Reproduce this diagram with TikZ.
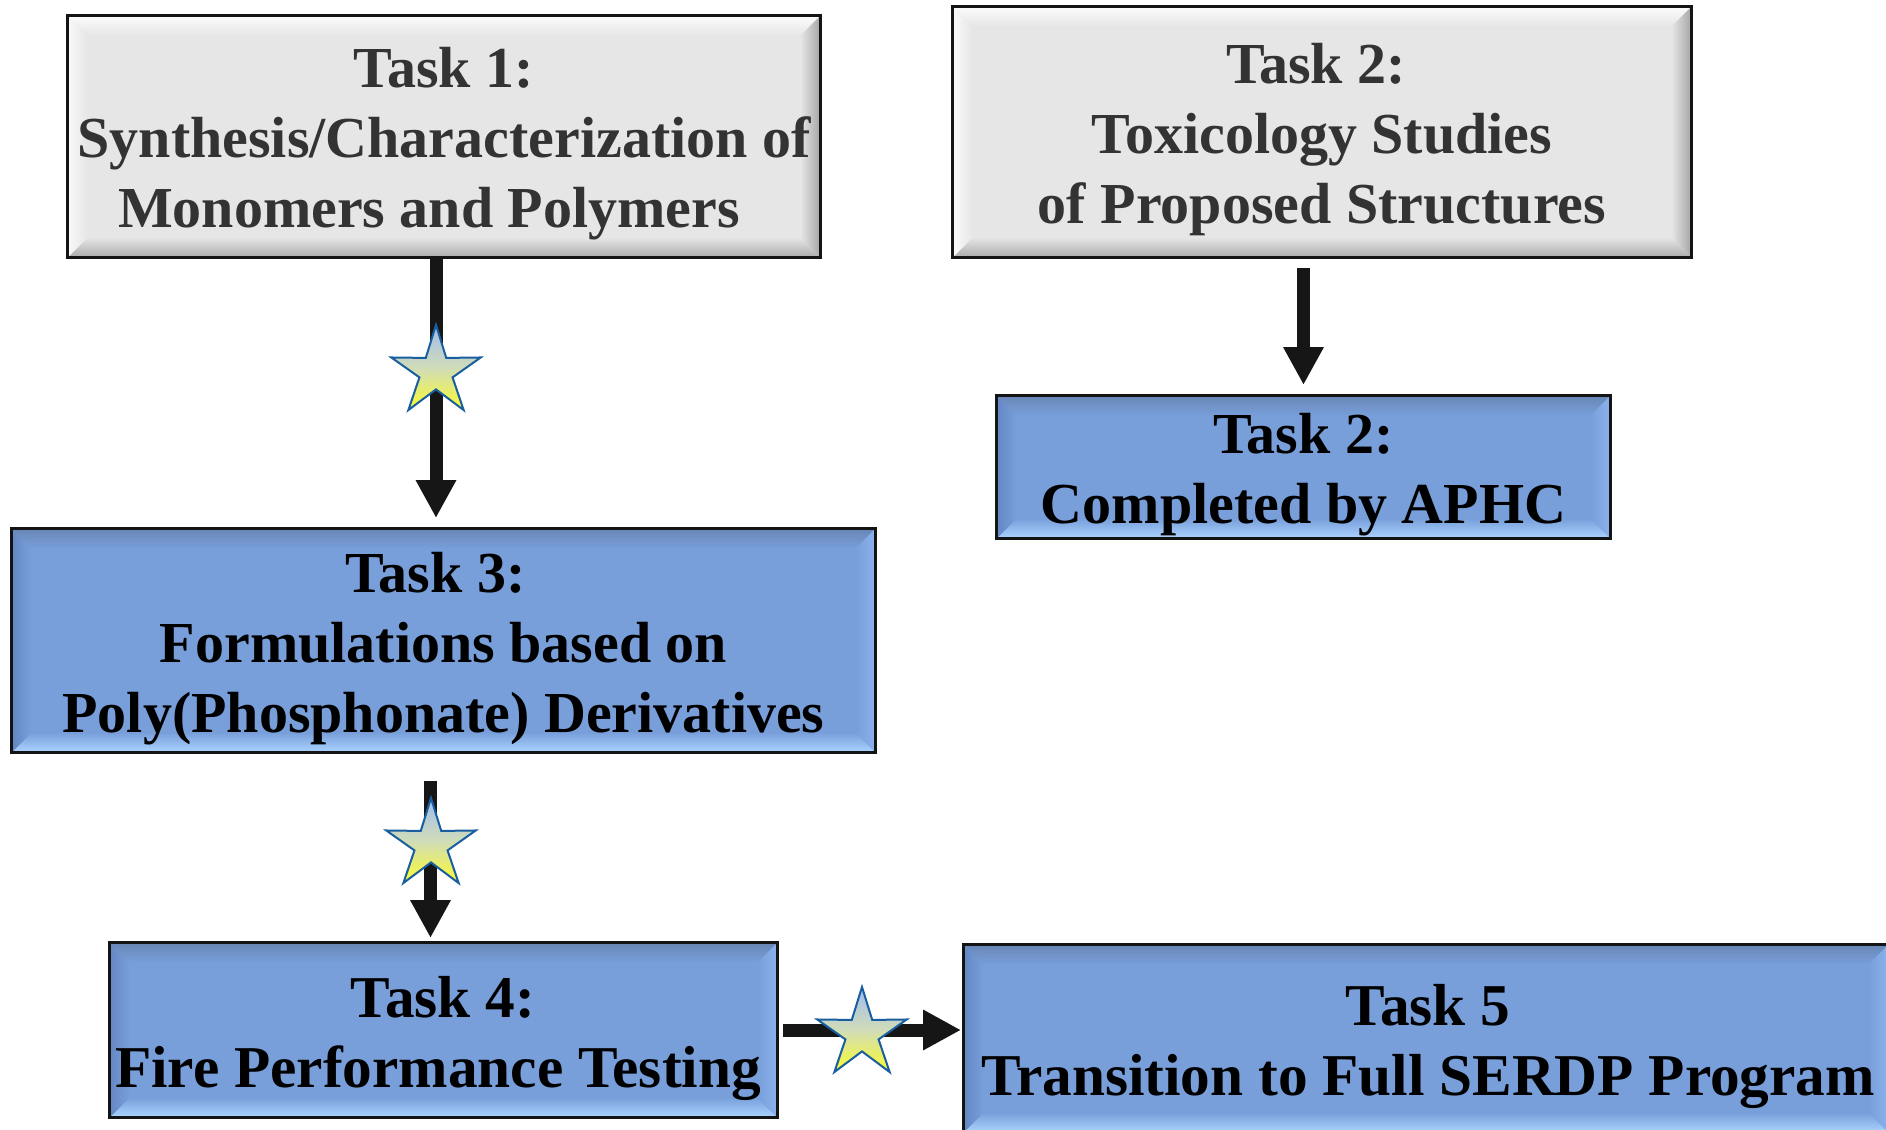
\documentclass[tikz,border=0pt]{standalone}
\usepackage{fontspec}
\setmainfont{Liberation Serif}
\usetikzlibrary{arrows.meta,shapes.geometric}
\definecolor{bmain}{RGB}{120,159,218}
\definecolor{btopA}{RGB}{104,134,182}
\definecolor{bleftA}{RGB}{100,135,196}
\definecolor{bbotA}{RGB}{172,212,255}
\definecolor{brightA}{RGB}{140,178,236}
\definecolor{gmain}{RGB}{230,230,230}
\definecolor{gtopA}{RGB}{252,252,252}
\definecolor{gleftA}{RGB}{250,250,250}
\definecolor{gbotA}{RGB}{170,170,170}
\definecolor{grightA}{RGB}{165,165,165}
\definecolor{edgec}{RGB}{20,20,20}
\definecolor{arrowc}{RGB}{22,22,22}
\definecolor{gtext}{RGB}{51,51,51}
\definecolor{starblue}{RGB}{160,188,240}
\definecolor{starmid}{RGB}{208,220,185}
\definecolor{staryel}{RGB}{252,252,45}
\definecolor{staredge}{RGB}{25,95,160}
\newcommand{\mybevel}[5]{%
  \path (path picture bounding box.north west) coordinate (pNW)
        (path picture bounding box.north east) coordinate (pNE)
        (path picture bounding box.south west) coordinate (pSW)
        (path picture bounding box.south east) coordinate (pSE);
  \shade[top color=#2,bottom color=#1] (pNW) -- (pNE) -- ([shift={(-20pt,-20pt)}]pNE) -- ([shift={(20pt,-20pt)}]pNW) -- cycle;
  \shade[top color=#1,bottom color=#4] ([shift={(20pt,20pt)}]pSW) -- ([shift={(-20pt,20pt)}]pSE) -- (pSE) -- (pSW) -- cycle;
  \shade[left color=#3,right color=#1] (pNW) -- ([shift={(20pt,-20pt)}]pNW) -- ([shift={(20pt,20pt)}]pSW) -- (pSW) -- cycle;
  \shade[left color=#1,right color=#5] ([shift={(-20pt,-20pt)}]pNE) -- (pNE) -- (pSE) -- ([shift={(-20pt,20pt)}]pSE) -- cycle;
}
\tikzset{
  taskbox/.style={draw=edgec, line width=3pt, inner sep=0pt, rectangle},
  graybox/.style={taskbox, fill=gmain, path picture={\mybevel{gmain}{gtopA}{gleftA}{gbotA}{grightA}}},
  bluebox/.style={taskbox, fill=bmain, path picture={\mybevel{bmain}{btopA}{bleftA}{bbotA}{brightA}}},
  boxtext/.style={font=\fontsize{58}{70}\selectfont\bfseries, align=center, inner sep=0pt},
  bigtext/.style={font=\fontsize{59.3}{70}\selectfont\bfseries},
  graytxt/.style={boxtext, text=gtext},
  bluetxt/.style={boxtext, text=black},
  conn/.style={draw=arrowc, line width=13pt, -{Triangle[width=38pt,length=38pt]}},
  starnode/.style={star, star points=5, star point ratio=2.7, minimum size=94pt, inner sep=0pt, draw=staredge, line width=2pt, top color=starblue, bottom color=staryel, middle color=starmid},
}
\begin{document}
\begin{tikzpicture}[x=1pt,y=-1pt]
\useasboundingbox (0,0) rectangle (1886,1129);
\clip (0,0) rectangle (1886,1129);
\fill[white] (0,0) rectangle (1886,1129);
% boxes
\node[graybox, minimum width=753pt, minimum height=242pt] (t1) at (444,136.5) {};
\node[graybox, minimum width=739pt, minimum height=251pt] (t2) at (1322,132) {};
\node[bluebox, minimum width=614pt, minimum height=143pt] (ap) at (1303.5,467) {};
\node[bluebox, minimum width=864pt, minimum height=224pt] (t3) at (443.5,640.5) {};
\node[bluebox, minimum width=668pt, minimum height=175pt] (t4) at (443.5,1030) {};
\node[bluebox, minimum width=925pt, minimum height=188pt] (t5) at (1426,1038.5) {};
% texts
\node[graytxt] (t1txt) at (444,143) {\strut Task 1:\\\strut Synthesis/Characterization of\\\strut Monomers and Polymers\hspace*{30pt}};
\node[graytxt] (t2txt) at (1322,139) {\strut Task 2:\hspace*{12pt}\\\strut Toxicology Studies\hspace*{12pt}\\\strut of Proposed Structures};
\node[bluetxt] (aptxt) at (1303.5,474) {\strut Task 2:\\\strut Completed by APHC};
\node[bluetxt] (t3txt) at (443.5,648) {\strut Task 3:\hspace*{16pt}\\\strut Formulations based on\hspace*{12pt}\\\strut Poly(Phosphonate) Derivatives};
\node[bluetxt, bigtext] (t4txt) at (443,1038) {\strut Task 4:\\\strut Fire Performance Testing\hspace*{10pt}};
\node[bluetxt, bigtext] (t5txt) at (1428,1046) {\strut Task 5\\\strut Transition to Full SERDP Program};
% connectors
\draw[conn] ([xshift=-8pt]t1.south) -- ([xshift=-7.5pt,yshift=9pt]t3.north);
\draw[conn] ([yshift=-9pt]t2.south -| ap.north) -- ([yshift=9pt]ap.north);
\draw[conn] ([xshift=-13pt,yshift=-27pt]t3.south) -- ([xshift=-13pt,yshift=3pt]t4.north);
\draw[conn] ([xshift=4pt]t4.east) -- ([xshift=-1pt]t4.east -| t5.west);
% stars
\node[starnode] (s1) at (436,372) {};
\node[starnode] (s2) at (431,845) {};
\node[starnode] (s3) at (862,1034) {};
\end{tikzpicture}
\end{document}
